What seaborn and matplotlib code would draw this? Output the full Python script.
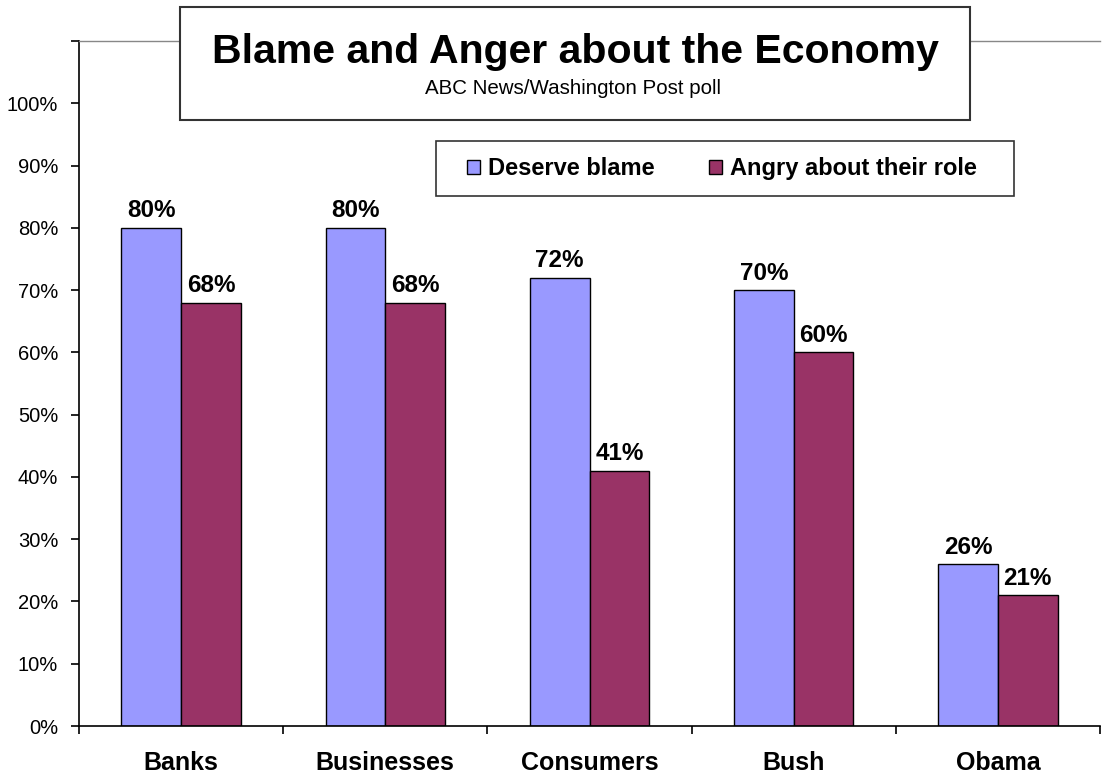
import matplotlib
matplotlib.use("Agg")
import matplotlib.pyplot as plt
from matplotlib.patches import Rectangle
import seaborn as sns
import pandas as pd

categories = ["Banks", "Businesses", "Consumers", "Bush", "Obama"]
deserve_blame = [80, 80, 72, 70, 26]
angry_role = [68, 68, 41, 60, 21]
series_names = ["Deserve blame", "Angry about their role"]
colors = ["#9999FF", "#993366"]
title = "Blame and Anger about the Economy"
subtitle = "ABC News/Washington Post poll"

df = pd.DataFrame({
    "category": categories * 2,
    "series": [series_names[0]] * len(categories) + [series_names[1]] * len(categories),
    "value": deserve_blame + angry_role,
})

sns.set_style("white")
plt.rcParams["font.family"] = ["Liberation Sans", "DejaVu Sans"]
plt.rcParams["text.color"] = "black"
plt.rcParams["xtick.color"] = "black"
plt.rcParams["ytick.color"] = "black"

fig = plt.figure(figsize=(11.05, 7.74), dpi=100)
ax = fig.add_axes([79 / 1105, 1 - 726 / 774, 1021 / 1105, 685 / 774])

sns.barplot(data=df, x="category", y="value", hue="series", order=categories,
            hue_order=series_names, palette=colors, width=0.585,
            edgecolor="black", linewidth=1.0, ax=ax, legend=True, saturation=1)

for cont in ax.containers:
    ax.bar_label(cont, labels=[f"{int(v)}%" for v in cont.datavalues],
                 padding=4, fontsize=17.5, fontweight="bold", color="black")

ax.set_ylim(0, 110)
ax.set_xlim(-0.5, len(categories) - 0.5)
yt = list(range(0, 111, 10))
ax.set_yticks(yt)
ax.set_yticklabels([f"{t}%" if t <= 100 else "" for t in yt], fontsize=14.5, color="black")
ax.tick_params(axis="y", direction="out", length=6, width=1.2, pad=9, left=True, color="black")

ax.set_xticks([i - 0.5 for i in range(len(categories) + 1)])
ax.set_xticklabels([""] * (len(categories) + 1))
ax.tick_params(axis="x", which="major", direction="out", length=6, width=1.2, bottom=True, color="black")
ax.set_xticks(list(range(len(categories))), minor=True)
ax.set_xticklabels(categories, minor=True, fontsize=18, fontweight="bold", color="black")
ax.tick_params(axis="x", which="minor", length=0, pad=18)
ax.set_xlabel("")
ax.set_ylabel("")

for s in ["left", "bottom"]:
    ax.spines[s].set_color("black")
    ax.spines[s].set_linewidth(1.2)
ax.spines["top"].set_color("#888888")
ax.spines["top"].set_linewidth(1.0)
ax.spines["right"].set_visible(False)

# legend
handles, labels = ax.get_legend_handles_labels()
ax.get_legend().remove()
leg = fig.legend(handles, labels, loc="center", ncol=2, frameon=False,
                 bbox_to_anchor=(((436 + 1014) / 2 - 3) / 1105, 1 - 168.5 / 774),
                 prop={"size": 17, "weight": "bold"}, handlelength=0.55, handleheight=0.55,
                 handletextpad=0.35, columnspacing=2.3)
for t in leg.get_texts():
    t.set_color("black")
fig.add_artist(Rectangle((436 / 1105, 1 - 196 / 774), 578 / 1105, 55 / 774,
                         transform=fig.transFigure, facecolor="white",
                         edgecolor="#333333", linewidth=1.2, zorder=4))
leg.set_zorder(5)

# title box
fig.add_artist(Rectangle((180 / 1105, 1 - 120 / 774), 790 / 1105, 113 / 774,
                         transform=fig.transFigure, facecolor="white",
                         edgecolor="#333333", linewidth=1.5, zorder=4))
fig.text(575 / 1105, 1 - 63 / 774, title, ha="center", va="baseline",
         fontsize=29.5, fontweight="bold", zorder=6, color="black")
fig.text(573 / 1105, 1 - 94 / 774, subtitle, ha="center", va="baseline",
         fontsize=14.8, zorder=6, color="black")

fig.savefig("out.png", dpi=100)
